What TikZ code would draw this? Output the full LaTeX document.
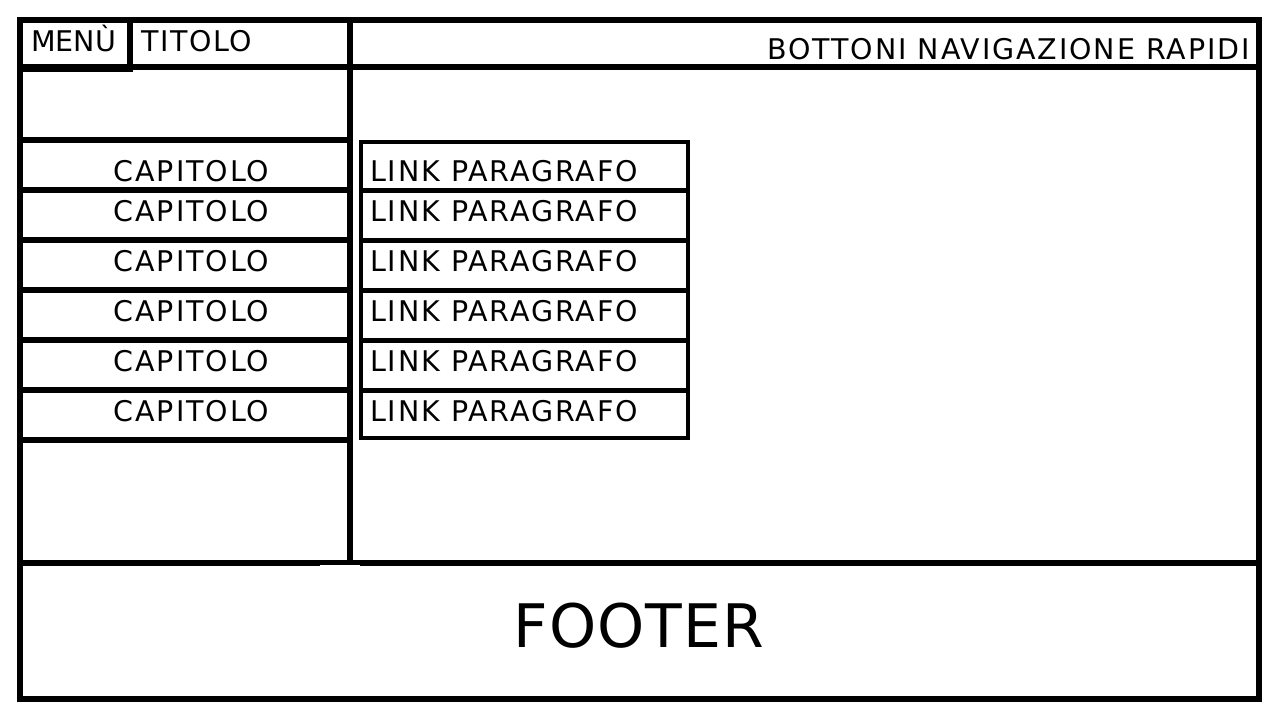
\documentclass[tikz,border=0pt]{standalone}
\usepackage{fontspec}
\setmainfont{DejaVu Sans}
\newfontfamily\spacedfont[LetterSpace=6.7]{DejaVu Sans}
\newfontfamily\titlefont[LetterSpace=5.5]{DejaVu Sans}
\newfontfamily\footfont[LetterSpace=2]{DejaVu Sans}
\begin{document}
\begin{tikzpicture}[x=1pt,y=-1pt,
  frame/.style={line width=6pt,line cap=rect},
  thin/.style={line width=3.5pt},
  lbl/.style={inner sep=0pt,font=\spacedfont\fontsize{28.5}{34}\selectfont},
  big/.style={inner sep=0pt,font=\footfont\fontsize{60}{70}\selectfont}]
\useasboundingbox[fill=white] (0,0) rectangle (1280,720);
% outer frame
\draw[frame,line join=miter] (20,20) rectangle (1259,699);
% header line
\draw[frame] (20,67) -- (1259,67);
% menu box
\draw[frame] (130,20) -- (130,68);
\draw[line width=7pt] (20,68) -- (133,68);
% left column divider
\draw[frame] (350,20) -- (350,560);
% chapter row lines
\foreach \y in {140,190,240,290,340,390,440}
  \draw[frame,line cap=butt] (20,\y) -- (347,\y);
% footer top line
\draw[frame,line cap=butt] (20,563) -- (320,563);
\draw[line width=5pt] (320,562.5) -- (360,562.5);
\draw[frame,line cap=butt] (360,563) -- (1262,563);
% link boxes
\draw[thin] (361,142) rectangle (688,438);
\foreach \y in {190,240,290,340,390}
  \draw[line width=5pt] (361,\y) -- (688,\y);
% texts
\node[inner sep=0pt,font=\fontsize{28.5}{34}\selectfont,anchor=base west] (menu) at (31,51) {MENÙ};
\node[inner sep=0pt,font=\titlefont\fontsize{28.5}{34}\selectfont,anchor=base west] (titolo) at (141,51) {TITOLO};
\node[lbl,anchor=base east] (bottoni) at (1250,59) {BOTTONI NAVIGAZIONE RAPIDI};
\node[lbl,anchor=base] (cap1) at (191.5,181) {CAPITOLO};
\node[lbl,anchor=base] (cap2) at (191.5,221) {CAPITOLO};
\node[lbl,anchor=base] (cap3) at (191.5,271) {CAPITOLO};
\node[lbl,anchor=base] (cap4) at (191.5,321) {CAPITOLO};
\node[lbl,anchor=base] (cap5) at (191.5,371) {CAPITOLO};
\node[lbl,anchor=base] (cap6) at (191.5,421) {CAPITOLO};
\node[lbl,anchor=base west] (link1) at (370,181) {LINK PARAGRAFO};
\node[lbl,anchor=base west] (link2) at (370,221) {LINK PARAGRAFO};
\node[lbl,anchor=base west] (link3) at (370,271) {LINK PARAGRAFO};
\node[lbl,anchor=base west] (link4) at (370,321) {LINK PARAGRAFO};
\node[lbl,anchor=base west] (link5) at (370,371) {LINK PARAGRAFO};
\node[lbl,anchor=base west] (link6) at (370,421) {LINK PARAGRAFO};
\node[big,anchor=base] (footer) at (639,647) {FOOTER};
\end{tikzpicture}
\end{document}
